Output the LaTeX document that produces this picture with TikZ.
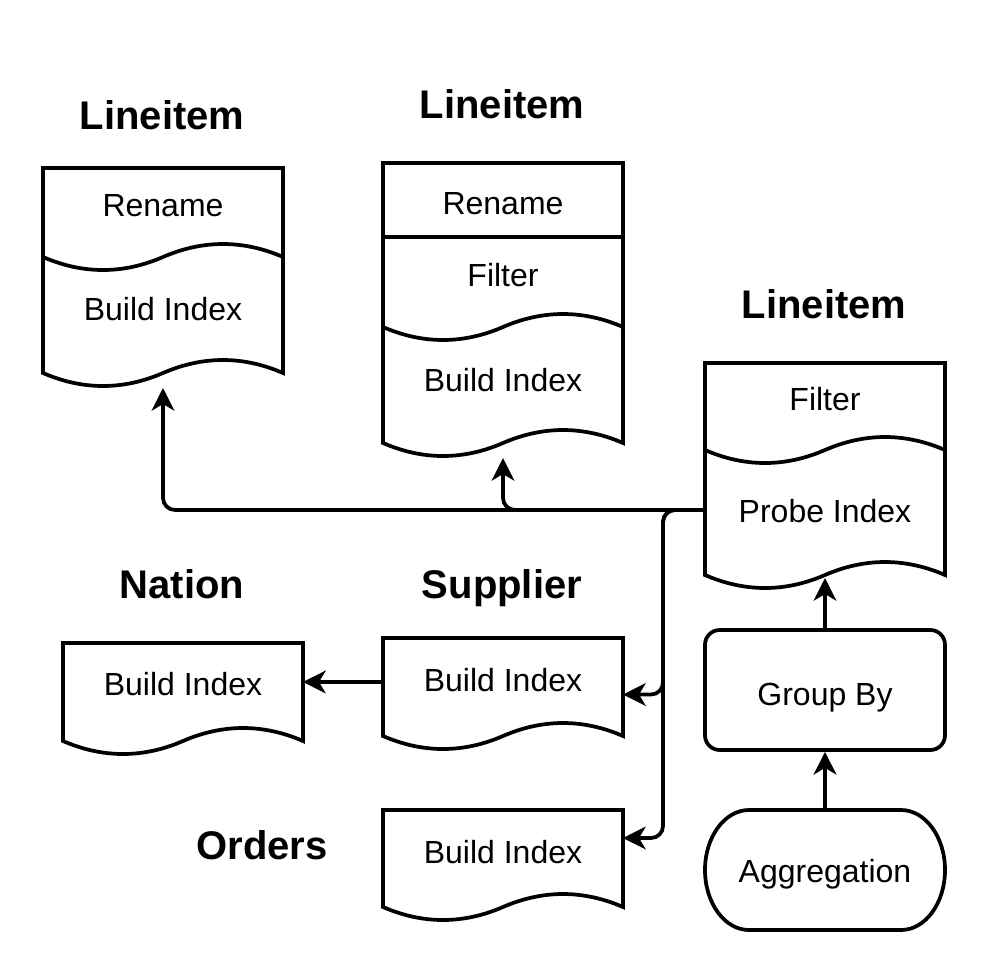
\documentclass[tikz,border=0pt]{standalone}
\usepackage{fontspec}
\setmainfont{Liberation Sans}
\usetikzlibrary{arrows.meta,shapes.geometric,fit,calc}
\tikzset{
  docline/.style={line width=2.8pt, line join=miter},
  frame/.style={inner sep=0pt, outer sep=0pt, draw=none},
  docwave/.style={insert path={.. controls +(-30pt,13pt) and +(30pt,13pt) .. ++(-90pt,0pt) .. controls +(-30pt,-13pt) and +(30pt,-13pt) .. ++(-90pt,0pt)}},
  title/.style={font=\fontsize{30}{36}\selectfont\bfseries, anchor=base, inner sep=0pt},
  lbl/.style={font=\fontsize{24}{29}\selectfont, anchor=base, inner sep=0pt},
  conn/.style={line width=2.8pt, rounded corners=9pt, -{Stealth[length=17pt,width=17pt,inset=5pt]}},
}
\begin{document}
\begin{tikzpicture}[x=0.75pt,y=-0.75pt]
\useasboundingbox (0,0) rectangle (986,972);

% frames of the document shapes
\node[frame, fit={(43,168) (283,388)}] (la) {};
\node[frame, fit={(383,163) (623,458)}] (lb) {};
\node[frame, fit={(705,363) (945,590)}] (lc) {};
\node[frame, fit={(63,643) (303,756)}] (nat) {};
\node[frame, fit={(383,638) (623,751)}] (sup) {};
\node[frame, fit={(383,810) (623,922)}] (ord) {};

\foreach \n in {la,lb,lc,nat,sup,ord}{
  \draw[docline] (\n.north west) -- (\n.north east) -- ([yshift=11.25pt]\n.south east) [docwave] -- cycle;
}
% dividers
\draw[docline] ([yshift=-66.75pt]la.north east) [docwave];
\draw[docline] ([yshift=-55.5pt]lb.north west) -- ([yshift=-55.5pt]lb.north east);
\draw[docline] ([yshift=-123pt]lb.north east) [docwave];
\draw[docline] ([yshift=-65.25pt]lc.north east) [docwave];

% group by and aggregation
\node[draw, docline, rounded corners=11pt, minimum width=180pt, minimum height=90pt, inner sep=0pt] (gb) at (825,690) {};
\node[frame, fit={(705,810) (945,930)}] (agg) {};
\draw[docline] ([xshift=33pt]agg.north west) -- ([xshift=-33pt]agg.north east)
  arc[start angle=90, end angle=-90, x radius=33pt, y radius=45pt]
  -- ([xshift=33pt]agg.south west)
  arc[start angle=270, end angle=90, x radius=33pt, y radius=45pt] -- cycle;

% titles
\node[title] (tla) at (162,129) {Lineitem};
\node[title] (tlb) at (502,118) {Lineitem};
\node[title] (tlc) at (824,318) {Lineitem};
\node[title] (tnat) at (182,598) {Nation};
\node[title] (tsup) at (502,598) {Supplier};
\node[title] (tord) at (262,859) {Orders};

% labels
\node[lbl] (la1) at (163,216.5) {Rename};
\node[lbl] (la2) at (163,320.5) {Build Index};
\node[lbl] (lb1) at (503,214.5) {Rename};
\node[lbl] (lb2) at (503,286.5) {Filter};
\node[lbl] (lb3) at (503,391.5) {Build Index};
\node[lbl] (lc1) at (825,410.5) {Filter};
\node[lbl] (lc2) at (825,522.5) {Probe Index};
\node[lbl] (nat1) at (183,695.5) {Build Index};
\node[lbl] (sup1) at (503,691.5) {Build Index};
\node[lbl] (ord1) at (503,863.5) {Build Index};
\node[lbl] (gb1) at (825,705.5) {Group By};
\node[lbl] (agg1) at (825,882) {Aggregation};

% connectors
\coordinate (src) at ([yshift=-25.1pt]lc.west);
\coordinate (split) at ([xshift=-31.5pt]src);
\coordinate (supout) at ([yshift=9.4pt]sup.west);
\coordinate (ordin) at ([yshift=21pt]ord.east);
\draw[conn] (src) -| (la.south);
\draw[conn] (src) -| (lb.south);
\draw[conn] (src) -- (split) |- (sup.east);
\draw[conn] (src) -- (split) |- (ordin);
\draw[conn] (supout) -- (nat.east |- supout);
\draw[conn] (gb.north) -- ([yshift=9pt]lc.south);
\draw[conn] (agg.north) -- (gb.south);
\end{tikzpicture}
\end{document}
